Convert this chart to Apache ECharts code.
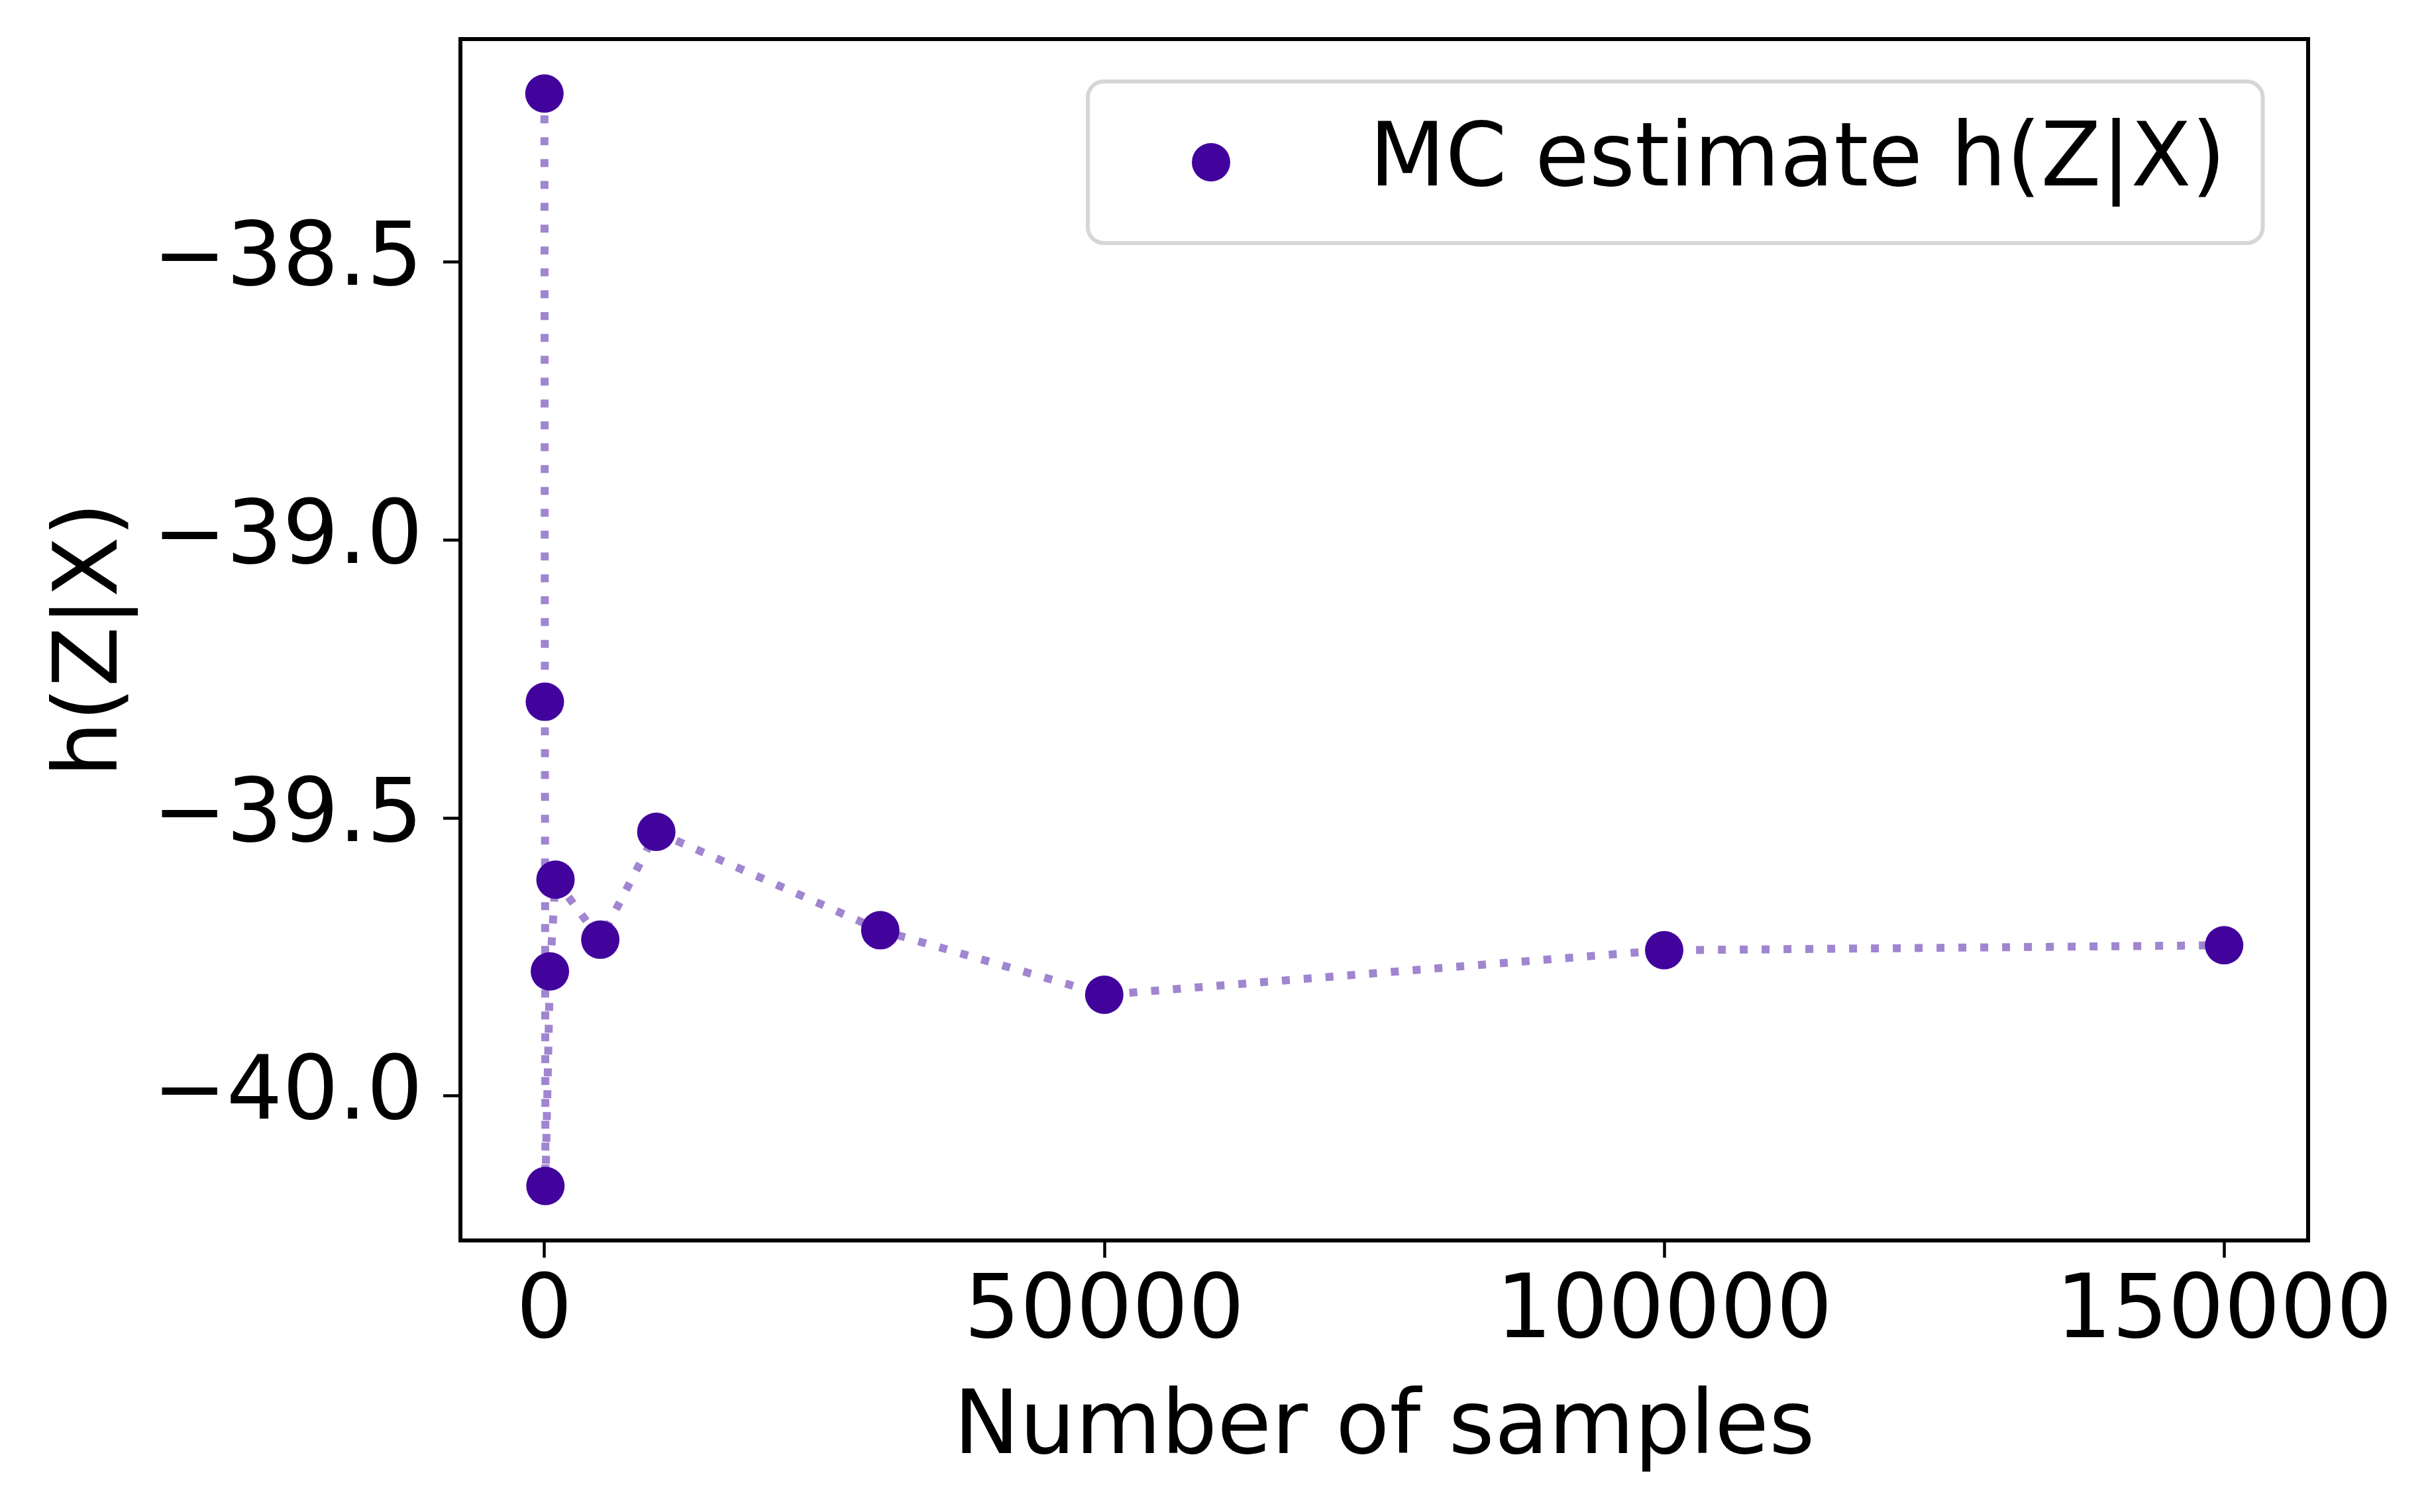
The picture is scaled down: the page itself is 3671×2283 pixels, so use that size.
<!DOCTYPE html>
<html>
<head>
<meta charset="utf-8">
<script src="https://cdn.jsdelivr.net/npm/echarts@6/dist/echarts.min.js"></script>
<style>
  html, body { margin: 0; padding: 0; background: #fff; }
  #chart { width: 3671px; height: 2283px; }
</style>
</head>
<body>
<div id="chart"></div>
<script>
// number of MC samples and the estimate at each size
const nSamples = [10, 50, 100, 500, 1000, 5000, 10000, 30000, 50000, 100000, 150000]
const hEstimate = [-38.197, -39.291, -40.162, -39.776, -39.611, -39.719, -39.525, -39.702, -39.818, -39.738, -39.729]
const xTicks = [0, 50000, 100000, 150000]
const yTicks = [-40.0, -39.5, -39.0, -38.5]

const seriesName = 'MC estimate h(Z|X)'
const points = nSamples.map((n, i) => [n, hEstimate[i]])

const font = 'DejaVu Sans'
const fs = 133

let chart = echarts.init(document.getElementById('chart'))
chart.setOption({
  backgroundColor: '#fff',
  animation: false,
  textStyle: { fontFamily: font },
  grid: {
    left: 695, top: 59, right: 187, bottom: 410,
    show: true, borderColor: '#000', borderWidth: 6
  },
  legend: {
    data: [seriesName],
    left: 1642, top: 123,
    padding: [47, 56, 47, 157],
    itemWidth: 58, itemHeight: 58,
    icon: 'circle',
    backgroundColor: '#fff',
    borderColor: '#d6d6d6', borderWidth: 6, borderRadius: 24,
    textStyle: {
      fontFamily: font, fontSize: fs, color: '#000',
      lineHeight: 122, padding: [0, 0, 28, 205]
    }
  },
  xAxis: {
    type: 'value',
    min: -7490, max: 157500,
    name: 'Number of samples',
    nameLocation: 'middle', nameGap: 220,
    nameTextStyle: { fontFamily: font, fontSize: fs, color: '#000' },
    axisLine: { show: true, onZero: false, lineStyle: { color: '#000', width: 6 } },
    axisTick: { show: true, length: 26, lineStyle: { color: '#000', width: 4.5 }, customValues: xTicks },
    axisLabel: {
      fontFamily: font, fontSize: fs, color: '#000', margin: 45,
      customValues: xTicks,
      formatter: v => String(v)
    },
    splitLine: { show: false }
  },
  yAxis: {
    type: 'value',
    min: -40.26, max: -38.099,
    name: 'h(Z|X)',
    nameLocation: 'middle', nameGap: 487,
    nameTextStyle: { fontFamily: font, fontSize: fs, color: '#000' },
    axisLine: { show: true, onZero: false, lineStyle: { color: '#000', width: 6 } },
    axisTick: { show: true, length: 26, lineStyle: { color: '#000', width: 4.5 }, customValues: yTicks },
    axisLabel: {
      fontFamily: font, fontSize: fs, color: '#000', margin: 57,
      customValues: yTicks,
      formatter: v => (v < 0 ? '\u2212' : '') + Math.abs(v).toFixed(1)
    },
    splitLine: { show: false }
  },
  series: [
    {
      // dotted connecting line
      type: 'line',
      data: points,
      showSymbol: false,
      silent: true,
      lineStyle: { color: '#a085d0', width: 12, type: [12, 21], cap: 'butt' },
      z: 2
    },
    {
      name: seriesName,
      type: 'scatter',
      data: points,
      symbol: 'circle',
      symbolSize: 58,
      itemStyle: { color: '#42039d', opacity: 1 },
      z: 3
    }
  ]
})
</script>
</body>
</html>
